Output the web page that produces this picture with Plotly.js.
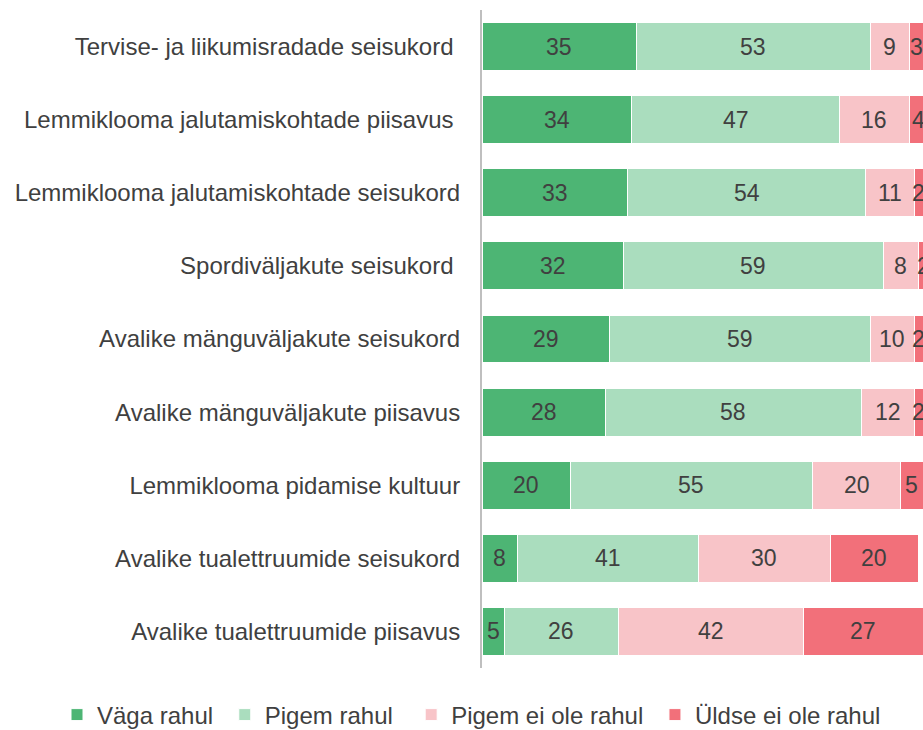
<!DOCTYPE html>
<html>
<head>
<meta charset="utf-8">
<script src="https://cdn.plot.ly/plotly-3.0.1.min.js"></script>
<style>html,body{margin:0;padding:0;background:#fff;}#chart{width:923px;height:730px;}</style>
</head>
<body>
<div id="chart"></div>
<script>
var categories = [
  "Tervise- ja liikumisradade seisukord ",
  "Lemmiklooma jalutamiskohtade piisavus ",
  "Lemmiklooma jalutamiskohtade seisukord",
  "Spordiväljakute seisukord ",
  "Avalike mänguväljakute seisukord",
  "Avalike mänguväljakute piisavus",
  "Lemmiklooma pidamise kultuur",
  "Avalike tualettruumide seisukord",
  "Avalike tualettruumide piisavus"
];
var seriesNames = ["Väga rahul", "Pigem rahul", "Pigem ei ole rahul", "Üldse ei ole rahul"];
var vagaRahul = [35, 34, 33, 32, 29, 28, 20, 8, 5];
var pigemRahul = [53, 47, 54, 59, 59, 58, 55, 41, 26];
var pigemEiOle = [9, 16, 11, 8, 10, 12, 20, 30, 42];
var uldseEiOle = [3, 4, 2, 2, 2, 2, 5, 20, 27];
var colors = ["#4DB574", "#AADDBE", "#F8C4C8", "#F2707A"];

var FONT = "Liberation Sans, Arial, sans-serif";
var allSeries = [vagaRahul, pigemRahul, pigemEiOle, uldseEiOle];
var legendPad = ["\u00a0", "\u00a0\u00a0", "\u00a0", ""];
var legendNames = seriesNames.map(function (n, i) { return n + legendPad[i]; });

var traces = allSeries.map(function (vals, i) {
  return {
    type: "bar",
    orientation: "h",
    name: legendNames[i],
    y: categories,
    x: vals,
    marker: {color: colors[i], line: {color: "#FFFFFF", width: 1}},
    hoverinfo: "none"
  };
});

// value labels centred in each segment (positions derived from the data via the axes)
var annotations = [];
var cum = categories.map(function () { return 0; });
allSeries.forEach(function (vals) {
  vals.forEach(function (v, j) {
    annotations.push({
      x: cum[j] + v / 2, y: categories[j], xref: "x", yref: "y",
      text: String(v), showarrow: false, xanchor: "center", yanchor: "middle",
      font: {family: FONT, size: 23, color: "#404040"}
    });
    cum[j] += v;
  });
});

var W = 923, H = 730, ML = 482, MR = 0, MT = 10, MB = 62;
var plotW = W - ML - MR, plotH = H - MT - MB;

var layout = {
  width: W, height: H,
  margin: {l: ML, r: MR, t: MT, b: MB, autoexpand: false},
  paper_bgcolor: "#FFFFFF", plot_bgcolor: "#FFFFFF",
  barmode: "stack",
  bargap: 0.345,
  showlegend: true,
  legend: {
    orientation: "h",
    xref: "paper", x: (57 - ML) / plotW, xanchor: "left",
    yref: "paper", y: -(715 - (H - MB)) / plotH, yanchor: "middle",
    font: {family: FONT, size: 24, color: "#404040"},
    traceorder: "normal"
  },
  annotations: annotations,
  xaxis: {range: [0, 100], visible: false, fixedrange: true},
  yaxis: {
    autorange: "reversed",
    showline: true, linecolor: "#BFBFBF", linewidth: 2,
    ticks: "", showgrid: false, zeroline: false,
    ticklabelstandoff: 15,
    tickfont: {family: FONT, size: 24, color: "#404040"}
  },
  font: {family: FONT, color: "#404040"}
};

Plotly.newPlot("chart", traces, layout, {displayModeBar: false, staticPlot: true});
</script>
</body>
</html>
